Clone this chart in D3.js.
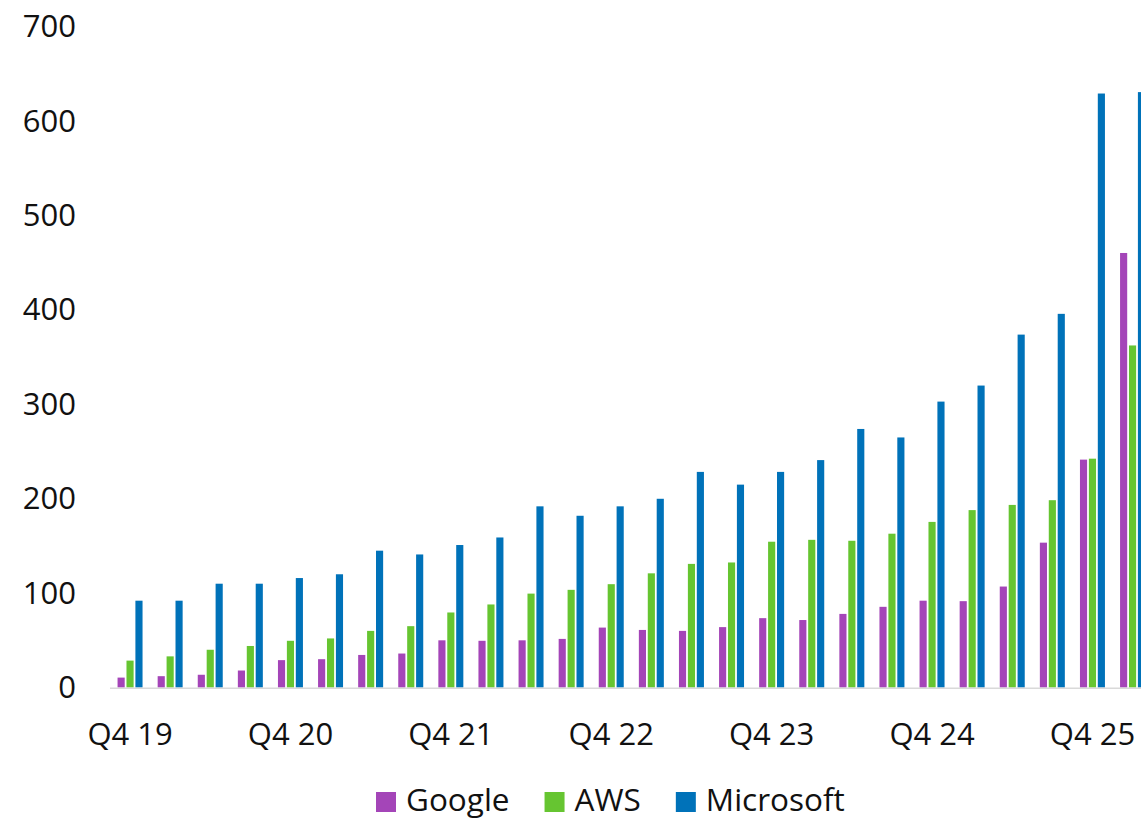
<!DOCTYPE html>
<html>
<head>
<meta charset="utf-8">
<script src="https://cdn.jsdelivr.net/npm/d3@7"></script>
<style>
  html, body { margin: 0; padding: 0; background: #fff; overflow: hidden; }
  svg { display: block; }
  text { font-family: "Open Sans", "Noto Sans", sans-serif; fill: #111; }
</style>
</head>
<body>
<svg id="chart" width="1141" height="818"></svg>
<script>
const categories = ["Q4 19","Q1 20","Q2 20","Q3 20","Q4 20","Q1 21","Q2 21","Q3 21","Q4 21","Q1 22","Q2 22","Q3 22","Q4 22","Q1 23","Q2 23","Q3 23","Q4 23","Q1 24","Q2 24","Q3 24","Q4 24","Q1 25","Q2 25","Q3 25","Q4 25","Q1 26"];
const seriesNames = ["Google","AWS","Microsoft"];
const seriesColors = ["#A445B8","#66C531","#0072B9"];
const google    = [10.5,12,13.5,18,29,30,34.5,36,50,49.5,50,51.5,63.5,61,60,64,73.5,71.5,78,85.5,92,91.5,107,153.5,241.5,460.5];
const aws       = [28.5,33,40,44,49.5,52,60,65,79.5,88,99.5,103.5,109.5,121,131,132.5,154.5,156.5,155.5,163,175.5,188,193.5,198.5,242.5,362.5];
const microsoft = [92,92,110,110,116,120,145,141,151,159,192,182,192,200,228.5,215,228.5,241,274,265,303,320,374,396,629.5,631];
const yTicks = [0,100,200,300,400,500,600,700];
const xTickLabels = ["Q4 19","Q4 20","Q4 21","Q4 22","Q4 23","Q4 24","Q4 25"];

const values = [google, aws, microsoft];
const svg = d3.select("#chart");

const x0 = d3.scaleBand().domain(categories).range([110, 1152.6]).paddingInner(0.377).paddingOuter(0.1885);
const x1 = d3.scaleBand().domain(seriesNames).range([0, x0.bandwidth()]).paddingInner(0.2).paddingOuter(0);
const y = d3.scaleLinear().domain([0, 700]).range([687.5, 27]);

// bars
const groups = svg.append("g").selectAll("g")
  .data(categories).join("g")
  .attr("transform", d => `translate(${x0(d)},0)`);
groups.selectAll("rect")
  .data((c, i) => seriesNames.map((s, k) => ({ s, k, v: values[k][i] })))
  .join("rect")
  .attr("x", d => x1(d.s))
  .attr("width", x1.bandwidth())
  .attr("y", d => y(d.v))
  .attr("height", d => y(0) - y(d.v))
  .attr("fill", d => seriesColors[d.k]);

// x axis baseline
svg.append("line")
  .attr("x1", 110).attr("x2", 1141)
  .attr("y1", y(0) + 0.8).attr("y2", y(0) + 0.8)
  .attr("stroke", "#d9d9d9").attr("stroke-width", 1.6);

// y axis labels
const yAxis = d3.axisLeft(y).tickValues(yTicks).tickSize(0).tickPadding(0);
const yg = svg.append("g").attr("transform", "translate(76,0)").call(yAxis);
yg.select(".domain").remove();
yg.selectAll("text").style("font-size", "31px").attr("fill", "#111").attr("font-family", null);

// x axis labels
const xAxis = d3.axisBottom(x0).tickValues(xTickLabels).tickSize(0).tickPadding(0);
const xg = svg.append("g").attr("transform", `translate(0,${y(0)})`).call(xAxis);
xg.select(".domain").remove();
xg.selectAll("text").style("font-size", "31px").attr("fill", "#111").attr("dy", null).attr("y", 57).attr("font-family", null);

// legend
const legend = svg.append("g");
let lx = 376;
seriesNames.forEach((s, k) => {
  legend.append("rect").attr("x", lx).attr("y", 792).attr("width", 20).attr("height", 20).attr("fill", seriesColors[k]);
  const t = legend.append("text").attr("x", lx + 30).attr("y", 810.5).style("font-size", "31.5px").text(s);
  lx += 30 + t.node().getComputedTextLength() + 35;
});
</script>
</body>
</html>
